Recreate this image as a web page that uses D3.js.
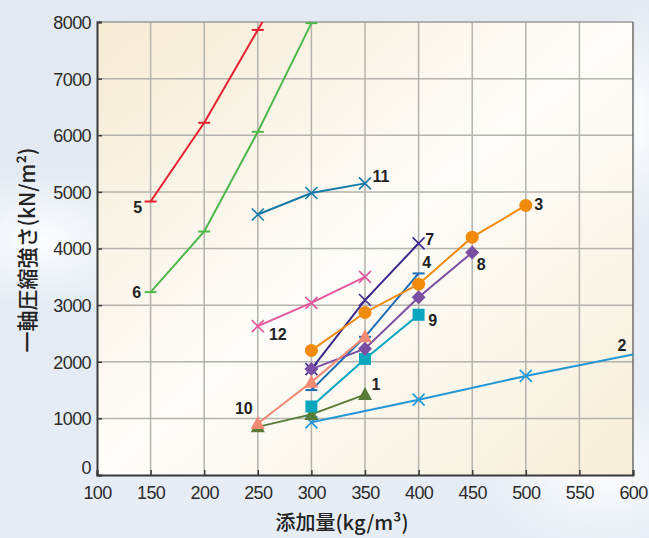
<!DOCTYPE html>
<html>
<head>
<meta charset="utf-8">
<script src="https://cdn.jsdelivr.net/npm/d3@7"></script>
<style>
  body { margin: 0; background: #e3eaf2; }
  svg { display: block; }
</style>
</head>
<body>
<script>
// 添加量 (kg/m3) と 一軸圧縮強さ (kN/m2)
var xTicks = [100, 150, 200, 250, 300, 350, 400, 450, 500, 550, 600];
var yTicks = [0, 1000, 2000, 3000, 4000, 5000, 6000, 7000, 8000];

var dose1 = [250, 300, 350],       str1 = [850, 1070, 1420];
var dose2 = [300, 400, 500, 600],  str2 = [930, 1330, 1750, 2130];
var dose3 = [300, 350, 400, 450, 500], str3 = [2200, 2870, 3370, 4200, 4760];
var dose4 = [300, 350, 400],       str4 = [1500, 2440, 3560];
var dose5 = [150, 200, 250, 300],  str5 = [4830, 6220, 7860, 9500];
var dose6 = [150, 200, 250, 300],  str6 = [3230, 4300, 6060, 7980];
var dose7 = [300, 350, 400],       str7 = [1870, 3090, 4090];
var dose8 = [300, 350, 400, 450],  str8 = [1870, 2230, 3140, 3930];
var dose9 = [300, 350, 400],       str9 = [1210, 2050, 2830];
var dose10 = [250, 300, 350],      str10 = [910, 1640, 2440];
var dose11 = [250, 300, 350],      str11 = [4600, 4980, 5150];
var dose12 = [250, 300, 350],      str12 = [2630, 3040, 3500];

// drawing styles (kept apart from the values)
var series = [
  {name: "5",  x: dose5,  y: str5,  color: "#e8202e", mark: "dash",   lab: 0, dx: -13, dy: 6},
  {name: "6",  x: dose6,  y: str6,  color: "#4db748", mark: "dash",   lab: 0, dx: -14, dy: 0},
  {name: "11", x: dose11, y: str11, color: "#1678a6", mark: "cross",  lab: 2, dx: 16,  dy: -7},
  {name: "12", x: dose12, y: str12, color: "#e2579c", mark: "cross",  lab: 0, dx: 20,  dy: 8},
  {name: "2",  x: dose2,  y: str2,  color: "#2396d6", mark: "cross",  lab: 3, dx: -11, dy: -9},
  {name: "1",  x: dose1,  y: str1,  color: "#587c38", mark: "tri",    lab: 2, dx: 11,  dy: -10},
  {name: "7",  x: dose7,  y: str7,  color: "#3b2a8e", mark: "cross",  lab: 2, dx: 11,  dy: -4},
  {name: "4",  x: dose4,  y: str4,  color: "#1e6db4", mark: "dash",   lab: 2, dx: 8,   dy: -11},
  {name: "3",  x: dose3,  y: str3,  color: "#f28a0c", mark: "circle", lab: 4, dx: 13,  dy: -1},
  {name: "9",  x: dose9,  y: str9,  color: "#0aa5bf", mark: "square", lab: 2, dx: 14,  dy: 5},
  {name: "8",  x: dose8,  y: str8,  color: "#7a4fa3", mark: "diamond",lab: 3, dx: 9,   dy: 12},
  {name: "10", x: dose10, y: str10, color: "#f38a74", mark: "tri",    lab: 0, dx: -14, dy: -15}
];

var W = 649, H = 538;
var margin = {top: 22, right: 16, bottom: 63, left: 97},
    width = W - margin.left - margin.right,
    height = H - margin.top - margin.bottom;

var svg = d3.select("body").append("svg")
  .attr("width", W)
  .attr("height", H);

var defs = svg.append("defs");

// sky-like backdrop
var bg = defs.append("linearGradient").attr("id", "bg")
  .attr("x1", "0").attr("y1", "0").attr("x2", "0").attr("y2", "1");
bg.append("stop").attr("offset", "0").attr("stop-color", "#e2e9f2");
bg.append("stop").attr("offset", "1").attr("stop-color", "#e6edf5");
var cloud = defs.append("radialGradient").attr("id", "cloud");
cloud.append("stop").attr("offset", "0").attr("stop-color", "#ffffff").attr("stop-opacity", 0.9);
cloud.append("stop").attr("offset", "1").attr("stop-color", "#ffffff").attr("stop-opacity", 0);

var pg = defs.append("linearGradient").attr("id", "plotbg")
  .attr("x1", "0").attr("y1", "0").attr("x2", "1").attr("y2", "1");
pg.append("stop").attr("offset", "0").attr("stop-color", "#f6ebd3");
pg.append("stop").attr("offset", "0.5").attr("stop-color", "#fefdfa");
pg.append("stop").attr("offset", "1").attr("stop-color", "#f7eed8");

defs.append("clipPath").attr("id", "clip")
  .append("rect").attr("width", width).attr("height", height);

svg.append("rect").attr("width", W).attr("height", H).attr("fill", "url(#bg)");
svg.append("ellipse").attr("cx", 40).attr("cy", 240).attr("rx", 110).attr("ry", 70).attr("fill", "url(#cloud)");
svg.append("ellipse").attr("cx", 600).attr("cy", 470).attr("rx", 120).attr("ry", 80).attr("fill", "url(#cloud)");
svg.append("ellipse").attr("cx", 640).attr("cy", 120).attr("rx", 40).attr("ry", 120).attr("fill", "url(#cloud)");

var g = svg.append("g")
  .attr("transform", "translate(" + margin.left + "," + margin.top + ")");

var x = d3.scaleLinear().domain([100, 600]).range([0, width]);
var y = d3.scaleLinear().domain([0, 8000]).range([height, 0]);

g.append("rect").attr("width", width).attr("height", height).attr("fill", "url(#plotbg)");

// grid
g.append("g").selectAll("line").data(xTicks.slice(1, -1)).enter().append("line")
  .attr("x1", function(d) { return x(d); }).attr("x2", function(d) { return x(d); })
  .attr("y1", 0).attr("y2", height)
  .attr("stroke", "#b4b2ad").attr("stroke-width", 1.5);
g.append("g").selectAll("line").data(yTicks.slice(1, -1)).enter().append("line")
  .attr("y1", function(d) { return y(d); }).attr("y2", function(d) { return y(d); })
  .attr("x1", 0).attr("x2", width)
  .attr("stroke", "#b4b2ad").attr("stroke-width", 1.5);

// frame
g.append("line").attr("x1", 0).attr("x2", width).attr("y1", 0).attr("y2", 0)
  .attr("stroke", "#9a9a9a").attr("stroke-width", 1.5);
g.append("line").attr("x1", width).attr("x2", width).attr("y1", 0).attr("y2", height)
  .attr("stroke", "#6e6e6e").attr("stroke-width", 1.5);

// axes
var tickFont = "'Liberation Sans', Arial, sans-serif";
var xAxis = g.append("g")
  .attr("transform", "translate(0," + height + ")")
  .call(d3.axisBottom(x).tickValues(xTicks).tickSize(-5).tickPadding(11));
var yAxis = g.append("g")
  .call(d3.axisLeft(y).tickValues(yTicks).tickFormat(d3.format("d")).tickSize(-5).tickPadding(6));
[xAxis, yAxis].forEach(function(a) {
  a.select(".domain").attr("stroke", "#3a3a3a").attr("stroke-width", 2);
  a.selectAll(".tick line").attr("stroke", "#3a3a3a").attr("stroke-width", 1.5);
  a.selectAll(".tick text").attr("fill", "#2b2b2b")
    .style("font-family", tickFont).style("font-size", "18px")
    .style("letter-spacing", "-0.6px");
});
yAxis.selectAll(".tick text").attr("dy", function(d) { return d === 0 ? "-0.1em" : "0.36em"; });

// series
var line = d3.line()
  .x(function(d) { return x(d[0]); })
  .y(function(d) { return y(d[1]); });

var plot = g.append("g").attr("clip-path", "url(#clip)");
var marks = g.append("g");

function drawMark(sel, kind, color) {
  if (kind === "circle") {
    sel.append("circle").attr("r", 6.5).attr("fill", color);
  } else if (kind === "square") {
    sel.append("rect").attr("x", -6).attr("y", -6).attr("width", 12).attr("height", 12).attr("fill", color);
  } else if (kind === "diamond") {
    sel.append("path").attr("d", "M0,-7L7,0L0,7L-7,0Z").attr("fill", color);
  } else if (kind === "tri") {
    sel.append("path").attr("d", "M0,-7.5L7,5.5L-7,5.5Z").attr("fill", color);
  } else if (kind === "cross") {
    sel.append("path").attr("d", "M-6,-6L6,6M-6,6L6,-6")
      .attr("stroke", color).attr("stroke-width", 1.6).attr("fill", "none");
  } else if (kind === "dash") {
    sel.append("path").attr("d", "M-6,0L6,0")
      .attr("stroke", color).attr("stroke-width", 2).attr("fill", "none");
  }
}

series.forEach(function(s) {
  var pts = s.x.map(function(v, i) { return [v, s.y[i]]; });
  plot.append("path").datum(pts)
    .attr("d", line)
    .attr("fill", "none")
    .attr("stroke", s.color)
    .attr("stroke-width", 2);
  pts.forEach(function(p) {
    if (p[0] >= 600 || p[1] > 8000) return;
    var m = marks.append("g")
      .attr("transform", "translate(" + x(p[0]) + "," + y(p[1]) + ")");
    drawMark(m, s.mark, s.color);
  });
});

// series numbers
series.forEach(function(s) {
  var i = s.lab;
  g.append("text")
    .attr("x", x(s.x[i]) + s.dx)
    .attr("y", y(s.y[i]) + s.dy)
    .attr("text-anchor", "middle")
    .attr("dy", "0.36em")
    .attr("fill", "#222")
    .style("font-family", "'Liberation Sans', Arial, sans-serif")
    .style("font-weight", "bold")
    .style("font-size", "16px")
    .text(s.name);
});

// axis titles
svg.append("text")
  .attr("x", margin.left + width / 2 - 23)
  .attr("y", 530)
  .attr("text-anchor", "middle")
  .attr("fill", "#222")
  .style("font-family", "'Noto Sans CJK JP', sans-serif")
  .style("font-weight", 500)
  .style("font-size", "20px")
  .text("添加量(kg/m³)");

svg.append("text")
  .attr("transform", "translate(35,250) rotate(-90)")
  .attr("text-anchor", "middle")
  .attr("fill", "#222")
  .style("font-family", "'Noto Sans CJK JP', sans-serif")
  .style("font-weight", 500)
  .style("font-size", "21px")
  .text("一軸圧縮強さ(kN/m²)");
</script>
</body>
</html>
